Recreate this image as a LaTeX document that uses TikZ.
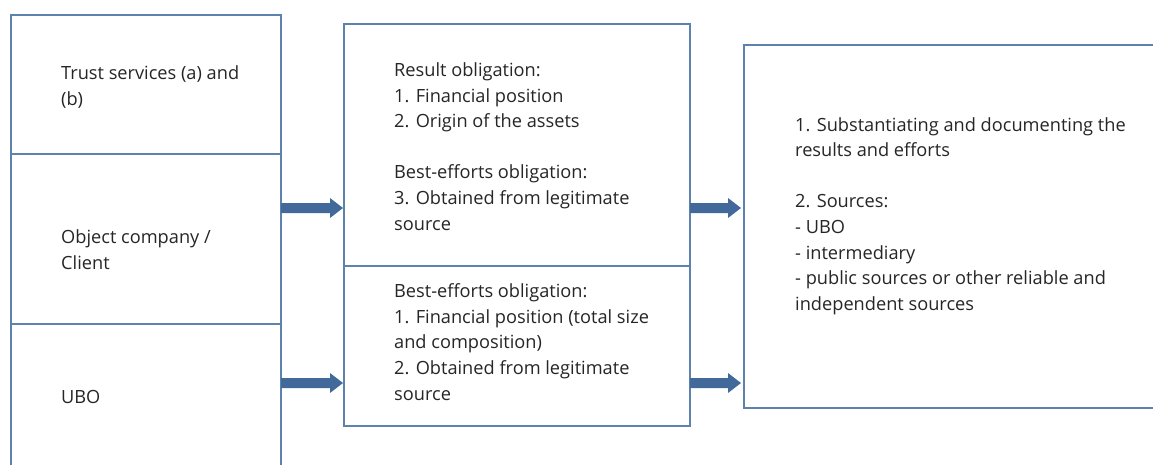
\documentclass[tikz,border=0pt]{standalone}
\usepackage{fontspec}
\setmainfont{Open Sans}
\usetikzlibrary{arrows.meta}
\definecolor{boxline}{HTML}{5E82AE}
\definecolor{arrowblue}{HTML}{41699A}
\begin{document}
\begin{tikzpicture}[x=1pt,y=-1pt,
  box/.style={draw=boxline, line width=1.5pt, fill=white, inner sep=0pt, outer sep=0pt, anchor=north west},
  txt/.style={anchor=north west, inner sep=0pt, align=left, font=\fontsize{18.2}{25.6}\selectfont, text=black!85},
  bigarrow/.style={draw=none, fill=arrowblue}]
\useasboundingbox (0,0) rectangle (1153,464);
% left column
\node[box, minimum width=270pt, minimum height=139pt] (L1) at (11,15) {};
\node[box, minimum width=270pt, minimum height=170pt] (L2) at (11,154) {};
\node[box, minimum width=270pt, minimum height=170pt] (L3) at (11,324) {};
% middle column
\node[box, minimum width=346pt, minimum height=242pt] (M1) at (344,24) {};
\node[box, minimum width=346pt, minimum height=160pt] (M2) at (344,266) {};
% right box
\node[box, minimum width=430pt, minimum height=363pt] (R) at (744,45) {};
% texts
\node[txt] (t1) at (61,65.5) {Trust services (a) and\\(b)};
\node[txt] (t2) at (61,229.5) {Object company /\\Client};
\node[txt] (t3) at (61,390.5) {UBO};
\node[txt] (t4) at (394,62.5) {Result obligation:\\1. Financial position\\2. Origin of the assets\\[25.6pt]Best-efforts obligation:\\3. Obtained from legitimate\\source};
\node[txt] (t5) at (394,283.5) {Best-efforts obligation:\\1. Financial position (total size\\and composition)\\2. Obtained from legitimate\\source};
\node[txt] (t6) at (795,117) {1. Substantiating and documenting the\\results and efforts\\[25.6pt]2. Sources:\\- UBO\\- intermediary\\- public sources or other reliable and\\independent sources};
% arrows
\coordinate (ya) at (0,208);
\coordinate (yb) at (0,383);
\path[bigarrow] (L2.east |- ya) ++(0,-5) -- ++(49,0) -- ++(0,-5) -- ++(13,10) -- ++(-13,10) -- ++(0,-5) -- ++(-49,0) -- cycle;
\path[bigarrow] (L3.east |- yb) ++(0,-5) -- ++(49,0) -- ++(0,-5) -- ++(13,10) -- ++(-13,10) -- ++(0,-5) -- ++(-49,0) -- cycle;
\path[bigarrow] (M1.east |- ya) ++(0,-5) -- ++(38,0) -- ++(0,-5) -- ++(13,10) -- ++(-13,10) -- ++(0,-5) -- ++(-38,0) -- cycle;
\path[bigarrow] (M2.east |- yb) ++(0,-5) -- ++(38,0) -- ++(0,-5) -- ++(13,10) -- ++(-13,10) -- ++(0,-5) -- ++(-38,0) -- cycle;
\end{tikzpicture}
\end{document}
